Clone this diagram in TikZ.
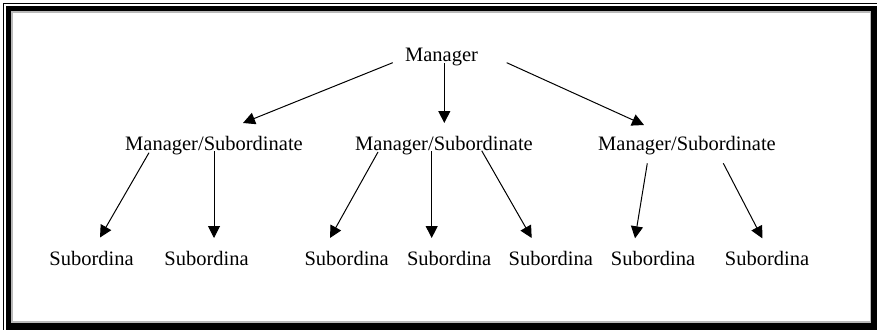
\documentclass[tikz,border=0pt]{standalone}
\usepackage{fontspec}
\setmainfont{Liberation Serif}
\usetikzlibrary{arrows.meta,calc}
\begin{document}
\begin{tikzpicture}[x=1pt,y=1pt,
  lbl/.style={anchor=base,inner sep=0pt,font=\fontsize{20.5}{24}\selectfont},
  link/.style={line width=1pt,-{Triangle[length=12pt,width=12pt]}}]
\useasboundingbox (0,0) rectangle (877,-329);
% framed border: thin outer rule, thick black band, grey inner rule
\draw[line width=1pt] (3.5,-3.5) rectangle (880,-332);
\fill[black] (6,-6) rectangle (880,-332);
\fill[gray!55] (11,-11) rectangle (871,-323);
\fill[white] (13,-13) rectangle (869.5,-321);

% hierarchy labels
\node[lbl] (mgr) at (441.5,-62) {Manager};
\node[lbl] (ms1) at (214,-150.7) {Manager/Subordinate};
\node[lbl] (ms2) at (444,-150.7) {Manager/Subordinate};
\node[lbl] (ms3) at (687,-150.7) {Manager/Subordinate};
\node[lbl] (s1) at (91.5,-265.5) {Subordina};
\node[lbl] (s2) at (206.5,-265.5) {Subordina};
\node[lbl] (s3) at (346.7,-265.5) {Subordina};
\node[lbl] (s4) at (449.2,-265.5) {Subordina};
\node[lbl] (s5) at (550.8,-265.5) {Subordina};
\node[lbl] (s6) at (653,-265.5) {Subordina};
\node[lbl] (s7) at (767,-265.5) {Subordina};

% top level links
\draw[link] ($(mgr.base)+(-48.8,-0.7)$) -- ($(ms1.base)+(29,27.7)$);
\draw[link] ($(mgr.base)+(2.8,-1)$) -- ($(ms2.base)+(0.3,27.7)$);
\draw[link] ($(mgr.base)+(65.2,-0.7)$) -- ($(ms3.base)+(-43,25.7)$);

% second level links
\draw[link] ($(ms1.base)+(-65,-2)$) -- ($(s1.base)+(8.5,28)$);
\draw[link] ($(ms1.base)+(0,-0.5)$) -- ($(s2.base)+(7.5,27.5)$);
\draw[link] ($(ms2.base)+(-66,-1.3)$) -- ($(s3.base)+(-16.7,27.5)$);
\draw[link] ($(ms2.base)+(-12.3,-0.3)$) -- ($(s4.base)+(-17.5,27.5)$);
\draw[link] ($(ms2.base)+(37.7,0)$) -- ($(s5.base)+(-19.1,27.5)$);
\draw[link] ($(ms3.base)+(-39.7,-12.6)$) -- ($(s6.base)+(-18,27.2)$);
\draw[link] ($(ms3.base)+(36.3,-12.6)$) -- ($(s7.base)+(-4.7,27.2)$);
\end{tikzpicture}
\end{document}
